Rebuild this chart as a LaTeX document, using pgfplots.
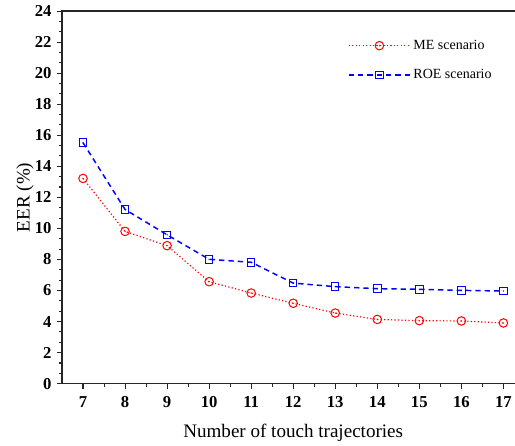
\documentclass[border=0pt]{standalone}
\usepackage{fontspec}
\setmainfont{Liberation Serif}
\usepackage{pgfplots}
\pgfplotsset{compat=1.18}
\usetikzlibrary{calc}
\pgfdeclareplotmark{odot}{%
  \pgfpathcircle{\pgfpointorigin}{\pgfplotmarksize}\pgfusepathqstroke
  \pgfpathcircle{\pgfpointorigin}{0.55pt}\pgfusepathqfill}
\pgfdeclareplotmark{sqdot}{%
  \pgfpathrectangle{\pgfpoint{-\pgfplotmarksize}{-\pgfplotmarksize}}{\pgfpoint{2\pgfplotmarksize}{2\pgfplotmarksize}}\pgfusepathqstroke
  \pgfpathcircle{\pgfpointorigin}{0.55pt}\pgfusepathqfill}
\begin{document}
\begin{tikzpicture}
\begin{axis}[
  name=ax, at={(0,0)}, anchor=south west,
  scale only axis, width=346.8pt, height=279.5pt,
  xmin=6.5, xmax=17.5, ymin=0, ymax=24,
  xtick={7,...,17}, ytick={0,2,...,24},
  minor x tick num=1, minor y tick num=2,
  xtick pos=bottom, ytick pos=left,
  tick align=outside,
  major tick length=3.8pt, minor tick length=2.2pt,
  every tick/.style={black!85, line width=0.8pt},
  axis line style={black!85, line width=1pt},
  /pgf/number format/assume math mode=true,
  ticklabel style={font=\bfseries\fontsize{12.5}{14}\selectfont},
  xticklabel style={yshift=-2.5pt},
  yticklabel style={xshift=-0.5pt},
  xlabel={Number of touch trajectories},
  ylabel={EER (\%)},
  label style={font=\fontsize{14.3}{16}\selectfont},
  xlabel style={at={(axis description cs:0.5,0)}, anchor=center, yshift=-36.5pt},
  ylabel style={at={(axis description cs:0,0.5)}, anchor=center, yshift=27.75pt},
  legend style={draw=none, fill=none, inner sep=0pt, outer sep=0pt,
    at={(axis description cs:0,1)}, anchor=north west, xshift=214.5pt, yshift=-19.75pt,
    font=\fontsize{10.5}{12}\selectfont, row sep=9.5pt},
  legend cell align=left,
  legend image code/.code={\draw[mark repeat=2, mark phase=2, #1] plot coordinates {(0pt,0pt) (23pt,0pt) (46pt,0pt)};},
]
\addplot[red, line width=0.9pt, dash pattern=on 0.9pt off 1.7pt, mark=odot, mark size=3.2pt, mark options={solid, line width=0.75pt}]
  coordinates {(7,13.22) (8,9.81) (9,8.89) (10,6.57) (11,5.84) (12,5.18) (13,4.55) (14,4.14) (15,4.06) (16,4.04) (17,3.91)};
\addlegendentry{ME scenario}
\addplot[blue, line width=1.1pt, dash pattern=on 4pt off 3pt, mark=sqdot, mark size=2.8pt, mark options={solid, line width=0.75pt}]
  coordinates {(7,15.52) (8,11.22) (9,9.59) (10,8.01) (11,7.82) (12,6.48) (13,6.25) (14,6.12) (15,6.08) (16,6.01) (17,5.97)};
\addlegendentry{ROE scenario}
\end{axis}
\pgfresetboundingbox
\path[use as bounding box] ($(ax.south west)+(-46.5pt,-45.975pt)$) rectangle ($(ax.south west)+(339.75pt,287.78pt)$);
\end{tikzpicture}
\end{document}
